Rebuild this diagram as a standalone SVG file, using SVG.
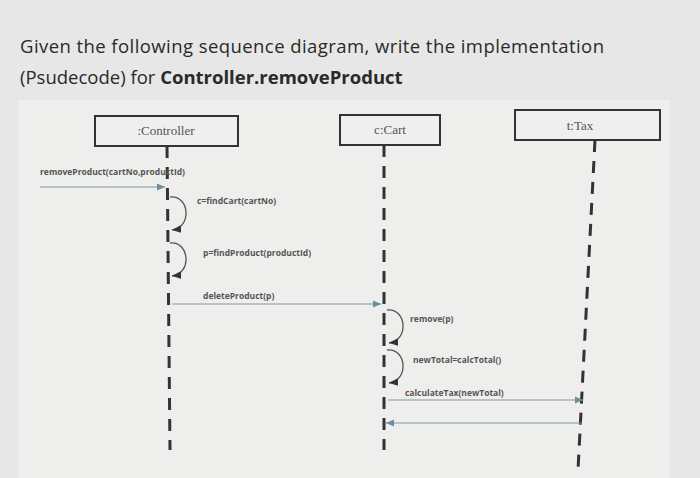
<svg xmlns="http://www.w3.org/2000/svg" width="700" height="478" viewBox="0 0 700 478">
<defs>
<style>
.t{font-family:"Open Sans","Liberation Sans",sans-serif;fill:#2a2a2a}
.box{fill:#efefef;stroke:#333;stroke-width:2}
.bl{font-family:"Liberation Serif",serif;font-size:13px;fill:#555;text-anchor:middle}
.life{stroke:#333;stroke-width:3;stroke-dasharray:12,9}
.msg{stroke:#7a9aa8;stroke-width:1.2;fill:none}
.self{stroke:#555;stroke-width:1.3;fill:none}
.lab{font-family:"Open Sans","Liberation Sans",sans-serif;font-size:8.5px;font-weight:bold;fill:#555}
</style>
<marker id="a" markerWidth="8" markerHeight="8" refX="7" refY="4" orient="auto"><path d="M0,1 L7,4 L0,7 Z" fill="#6a8fa0"/></marker>
<marker id="s" markerWidth="8" markerHeight="8" refX="7" refY="4" orient="auto"><path d="M0,1 L7,4 L0,7 Z" fill="#333"/></marker>
</defs>
<rect width="700" height="478" fill="#e6e7e6"/>
<rect x="18" y="100" width="652" height="378" fill="#eeeeec"/>
<text class="t" x="20" y="53" font-size="18.5" textLength="584">Given the following sequence diagram, write the implementation</text>
<text class="t" x="20" y="84" font-size="18.5">(Psudecode) for <tspan font-weight="bold">Controller.removeProduct</tspan></text>
<g id="controller"><rect class="box" x="95" y="116" width="143" height="30"/><text class="bl" x="166" y="135">:Controller</text></g>
<g id="cart"><rect class="box" x="340" y="115" width="100" height="30"/><text class="bl" x="390" y="134">c:Cart</text></g>
<g id="tax"><rect class="box" x="515" y="110" width="145" height="30"/><text class="bl" x="580" y="130">t:Tax</text></g>
<g id="connectors">
<line class="life" x1="167" y1="146" x2="170" y2="450"/>
<line class="life" x1="384" y1="145" x2="384" y2="450"/>
<line class="life" x1="595" y1="140" x2="578" y2="470"/>
<text class="lab" x="40" y="175" font-size="9.5">removeProduct(cartNo,productId)</text>
<line class="msg" x1="40" y1="187" x2="165" y2="187" marker-end="url(#a)"/>
<path class="self" d="M170,197 C190,195 192,228 172,230" marker-end="url(#s)"/>
<text class="lab" x="197" y="204">c=findCart(cartNo)</text>
<path class="self" d="M170,243 C190,241 192,274 172,276" marker-end="url(#s)"/>
<text class="lab" x="203" y="256">p=findProduct(productId)</text>
<text class="lab" x="203" y="299">deleteProduct(p)</text>
<line class="msg" x1="172" y1="304" x2="381" y2="304" marker-end="url(#a)"/>
<path class="self" d="M387,310 C407,308 409,341 389,343" marker-end="url(#s)"/>
<text class="lab" x="410" y="322">remove(p)</text>
<path class="self" d="M387,350 C407,348 409,381 389,383" marker-end="url(#s)"/>
<text class="lab" x="413" y="363">newTotal=calcTotal()</text>
<text class="lab" x="405" y="396">calculateTax(newTotal)</text>
<line class="msg" x1="388" y1="400" x2="583" y2="400" stroke-width="0.8" marker-end="url(#a)"/>
<line class="msg" x1="582" y1="423" x2="386" y2="423" stroke-width="0.6" marker-end="url(#a)"/>
</g>
</svg>
